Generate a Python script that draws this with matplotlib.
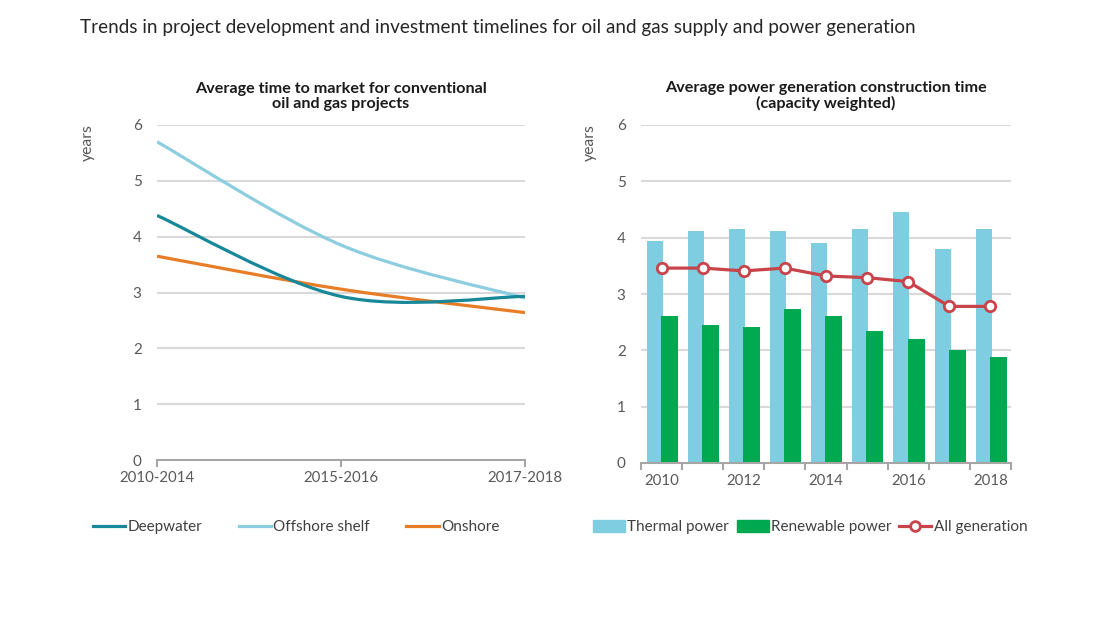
import matplotlib
matplotlib.use("Agg")
from matplotlib import pyplot as plt
from matplotlib.path import Path
from matplotlib.patches import PathPatch, Patch
from matplotlib.lines import Line2D
import numpy as np

plt.rcParams['font.family'] = ['Lato', 'DejaVu Sans']

# left panel: average time to market (years)
periods = ["2010-2014", "2015-2016", "2017-2018"]
deepwater = [4.38, 2.93, 2.93]
offshore_shelf = [5.70, 3.85, 2.90]
onshore = [3.65, 3.06, 2.64]

# right panel: construction time by year (years)
years = [2010, 2011, 2012, 2013, 2014, 2015, 2016, 2017, 2018]
thermal = [3.94, 4.12, 4.16, 4.12, 3.91, 4.16, 4.46, 3.80, 4.16]
renewable = [2.61, 2.45, 2.42, 2.74, 2.61, 2.35, 2.20, 2.01, 1.89]
all_generation = [3.46, 3.46, 3.41, 3.46, 3.32, 3.29, 3.22, 2.78, 2.78]

c_deep = '#17879a'
c_shelf = '#8ccde0'
c_on = '#e87d28'
c_thermal = '#7ecde0'
c_renew = '#00a84f'
c_all = '#c9434b'
c_grid = '#d9d9d9'
c_text = '#595959'


def smooth_path(xs, ys):
    # catmull-rom style bezier through the data points (like a "smoothed line")
    pts = np.column_stack([xs, ys]).astype(float)
    ext = np.vstack([pts[0], pts, pts[-1]])
    verts = [pts[0]]
    codes = [Path.MOVETO]
    for i in range(len(pts) - 1):
        p0, p1, p2, p3 = ext[i], ext[i + 1], ext[i + 2], ext[i + 3]
        verts += [p1 + (p2 - p0) / 6, p2 - (p3 - p1) / 6, p2]
        codes += [Path.CURVE4] * 3
    return Path(verts, codes)


fig = plt.figure(figsize=(11, 6.19), dpi=100)

fig.text(80 / 1100, 1 - 27 / 619, "Trends in project development and investment timelines for oil and gas supply and power generation",
         fontsize=13.6, color='#262626', va='center', ha='left')

# ---- left chart
ax1 = fig.add_axes([157 / 1100, 1 - 460 / 619, 368 / 1100, 335 / 619])
x_values = range(len(periods))
for vals, col in [(onshore, c_on), (offshore_shelf, c_shelf), (deepwater, c_deep)]:
    ax1.add_patch(PathPatch(smooth_path(list(x_values), vals), fill=False, edgecolor=col, lw=2.3,
                            capstyle='butt', zorder=3))
ax1.set_xlim(0, 2)
ax1.set_ylim(0, 6)
ax1.set_xticks(list(x_values))
ax1.set_xticklabels(periods)
ax1.set_title("Average time to market for conventional\noil and gas projects", fontsize=11.6,
              fontweight='bold', color='#1a1a1a', pad=12, linespacing=1.1)

# ---- right chart
ax2 = fig.add_axes([641 / 1100, 1 - 463 / 619, 370 / 1100, 338 / 619])
xr = np.arange(len(years))
ax2.bar(xr - 0.165, thermal, width=0.39, color=c_thermal, zorder=2)
ax2.bar(xr + 0.19, renewable, width=0.415, color=c_renew, zorder=2.1)
ax2.plot(xr, all_generation, color=c_all, lw=2.3, marker='o', markersize=7.5,
         markerfacecolor='white', markeredgecolor=c_all, markeredgewidth=2, zorder=4)
ax2.set_xlim(-0.5, len(years) - 0.5)
ax2.set_ylim(0, 6)
ax2.set_xticks(xr[::2])
ax2.set_xticklabels([str(y) for y in years[::2]])
ax2.set_xticks(np.arange(-0.5, len(years)), minor=True)
ax2.set_title("Average power generation construction time\n(capacity weighted)", fontsize=11.6,
              fontweight='bold', color='#1a1a1a', pad=12, linespacing=1.1)

for ax in (ax1, ax2):
    for s in ['top', 'right', 'left']:
        ax.spines[s].set_visible(False)
    ax.spines['bottom'].set_color('#a6a6a6')
    ax.spines['bottom'].set_linewidth(1.5)
    ax.set_yticks(range(0, 7))
    for yv in range(1, 7):
        ax.axhline(yv, color=c_grid, lw=1.5, zorder=1)
    ax.tick_params(axis='y', length=0, pad=11, labelsize=11, labelcolor=c_text)
    ax.tick_params(axis='x', labelsize=10.8, labelcolor=c_text, color='#a6a6a6', width=1.5, pad=3)

ax1.tick_params(axis='x', length=5)
ax2.tick_params(axis='x', which='major', length=0, pad=8)
ax2.tick_params(axis='x', which='minor', length=5, color='#a6a6a6', width=1.5)

fig.text(88 / 1100, 1 - 143 / 619, "years", rotation=90, fontsize=11.3, color=c_text, ha='center', va='center')
fig.text(590 / 1100, 1 - 143 / 619, "years", rotation=90, fontsize=11.3, color=c_text, ha='center', va='center')

# ---- legends
h_left = [Line2D([], [], color=c_deep, lw=2.3), Line2D([], [], color=c_shelf, lw=2.3),
          Line2D([], [], color=c_on, lw=2.3)]
fig.legend(h_left, ["Deepwater", "Offshore shelf", "Onshore"], loc='center left',
           bbox_to_anchor=(93 / 1100, 1 - 527 / 619), ncol=3, frameon=False, fontsize=11,
           handlelength=2.1, handletextpad=0.15, columnspacing=2.4, borderpad=0, borderaxespad=0,
           labelcolor='#404040')

h_right = [Patch(color=c_thermal), Patch(color=c_renew),
           Line2D([], [], color=c_all, lw=2.3, marker='o', markersize=7, markerfacecolor='white',
                  markeredgewidth=2)]
fig.legend(h_right, ["Thermal power", "Renewable power", "All generation"], loc='center left',
           bbox_to_anchor=(593 / 1100, 1 - 527 / 619), ncol=3, frameon=False, fontsize=11,
           handlelength=2.1, handleheight=0.9, handletextpad=0.15, columnspacing=0.5, borderpad=0,
           borderaxespad=0, labelcolor='#404040')

fig.savefig('out.png', dpi=100)
